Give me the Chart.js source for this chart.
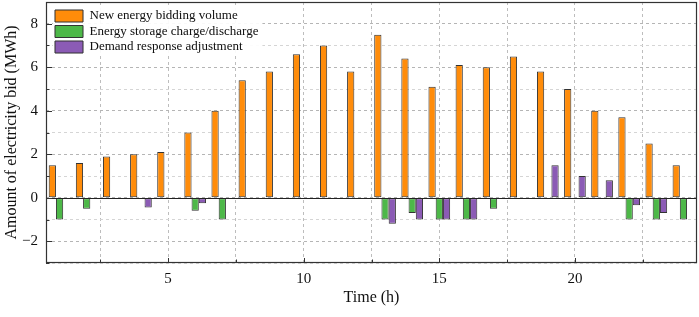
<!DOCTYPE html>
<html>
<head>
<meta charset="utf-8">
<script src="https://cdn.jsdelivr.net/npm/chart.js@4.4.0/dist/chart.umd.min.js"></script>
<style>
html,body{margin:0;padding:0;background:#fff;}
#wrap{position:relative;width:699px;height:317px;}
</style>
</head>
<body>
<div id="wrap"><canvas id="c" width="699" height="317"></canvas></div>
<script>
const hours = [1,2,3,4,5,6,7,8,9,10,11,12,13,14,15,16,17,18,19,20,21,22,23,24];
const newEnergy = [1.5,1.6,1.9,2.0,2.1,3.0,4.0,5.4,5.8,6.6,7.0,5.8,7.5,6.4,5.1,6.1,6.0,6.5,5.8,5.0,4.0,3.7,2.5,1.5];
const storage = [-1.0,-0.5,0,0,0,-0.6,-1.0,0,0,0,0,0,-1.0,-0.7,-1.0,-1.0,-0.5,0,0,0,0,-1.0,-1.0,-1.0];
const demand = [0,0,0,-0.45,0,-0.25,0,0,0,0,0,0,-1.2,-1.0,-1.0,-1.0,0,0,1.5,1.0,0.8,-0.35,-0.7,0];
const seriesNames = ['New energy bidding volume','Energy storage charge/discharge','Demand response adjustment'];
const xTicks = [2.5,5,7.5,10,12.5,15,17.5,20,22.5];
const yTicks = [-3,-2,-1,0,1,2,3,4,5,6,7,8,9];

const FONT = '"Liberation Serif", "Times New Roman", serif';
const pts = arr => hours.map((h,i)=>({x:h,y:arr[i]}));

const legendShift = {
  id:'legendShift',
  afterLayout(chart){
    const l = chart.legend;
    if(!l) return;
    l.left += 6.5; l.right += 6.5;
    l.top += 7; l.bottom += 7;
  },
  beforeDatasetsDraw(chart){
    const l = chart.legend;
    if(!l || !l.legendHitBoxes || !l.legendHitBoxes.length) return;
    const hb = l.legendHitBoxes;
    let x1=Infinity,y1=Infinity,x2=-Infinity,y2=-Infinity;
    hb.forEach(b=>{x1=Math.min(x1,b.left);y1=Math.min(y1,b.top);x2=Math.max(x2,b.left+b.width);y2=Math.max(y2,b.top+b.height);});
    const ctx=chart.ctx;
    ctx.save();
    ctx.fillStyle='rgba(255,255,255,0.92)';
    ctx.fillRect(x1-2,y1-2,x2-x1+6,y2-y1+4);
    ctx.restore();
    l.draw();
  }
};

const framePlugin = {
  id:'frame',
  afterDatasetsDraw(chart){
    const {ctx, chartArea:a, scales:{x,y}} = chart;
    ctx.save();
    ctx.strokeStyle='#222'; ctx.lineWidth=1.2; ctx.setLineDash([]);
    const y0 = Math.round(y.getPixelForValue(0))+0.5;
    ctx.beginPath(); ctx.moveTo(a.left,y0); ctx.lineTo(a.right,y0); ctx.stroke();
    ctx.strokeStyle='#333'; ctx.lineWidth=1.2;
    ctx.strokeRect(a.left+0.5,a.top+0.5,a.right-a.left-1,a.bottom-a.top-1);
    ctx.lineWidth=1;
    xTicks.forEach(v=>{
      const px=Math.round(x.getPixelForValue(v))+0.5;
      const len = (v%5===0)?5:3.5;
      ctx.beginPath(); ctx.moveTo(px,a.bottom); ctx.lineTo(px,a.bottom-len); ctx.stroke();
    });
    yTicks.forEach(v=>{
      const py=Math.round(y.getPixelForValue(v))+0.5;
      const len = (v%2===0)?6:3.5;
      ctx.beginPath(); ctx.moveTo(a.left,py); ctx.lineTo(a.left+len,py); ctx.stroke();
    });
    ctx.restore();
  }
};

new Chart(document.getElementById('c'),{
  type:'bar',
  data:{
    datasets:[
      {label:seriesNames[0],data:pts(newEnergy),backgroundColor:'#FF8C0A',borderColor:'#333',borderWidth:1,borderSkipped:false},
      {label:seriesNames[1],data:pts(storage),backgroundColor:'#4DB848',borderColor:'#333',borderWidth:1,borderSkipped:false},
      {label:seriesNames[2],data:pts(demand),backgroundColor:'#8B5BB5',borderColor:'#333',borderWidth:1,borderSkipped:false}
    ]
  },
  options:{
    responsive:false,
    animation:false,
    layout:{padding:{top:2,right:2,left:0,bottom:0}},
    datasets:{bar:{categoryPercentage:0.8,barPercentage:1.0}},
    plugins:{
      tooltip:{enabled:false},
      legend:{
        position:'chartArea',
        align:'start',
        labels:{
          font:{family:FONT,size:13},
          color:'#111',
          boxWidth:28,
          boxHeight:12,
          padding:2.5
        }
      }
    },
    scales:{
      x:{
        type:'linear',
        offset:false,
        min:0.5,max:24.5,
        afterBuildTicks:s=>{s.ticks=xTicks.map(v=>({value:v}));},
        afterFit:s=>{s.height=54;s.paddingLeft=0;s.paddingRight=0;},
        ticks:{
          autoSkip:false,maxRotation:0,padding:7,
          font:{family:FONT,size:15},color:'#111',
          callback:v=>(v%5===0)?String(v):''
        },
        grid:{drawTicks:false,offset:false,color:'#bdbdbd',lineWidth:1},
        border:{display:false,dash:[3,3]},
        title:{display:true,text:'Time (h)',font:{family:FONT,size:16},color:'#111',padding:{top:0,bottom:10}}
      },
      y:{
        min:-3,max:9,
        afterBuildTicks:s=>{s.ticks=yTicks.map(v=>({value:v}));},
        afterFit:s=>{s.width=46;s.paddingTop=0;s.paddingBottom=0;},
        ticks:{
          autoSkip:false,padding:8,
          font:{family:FONT,size:15},color:'#111',
          callback:v=>(v%2===0)?(v<0?'\u2212'+Math.abs(v):String(v)):''
        },
        grid:{drawTicks:false,lineWidth:1,color:c=>(c.tick && c.tick.value%2===0)?'#b5b5b5':'#d5d5d5'},
        border:{display:false,dash:[3,3]},
        title:{display:true,text:'Amount of electricity bid (MWh)',font:{family:FONT,size:16},color:'#111',padding:{top:2,bottom:0}}
      }
    }
  },
  plugins:[legendShift,framePlugin]
});
</script>
</body>
</html>
